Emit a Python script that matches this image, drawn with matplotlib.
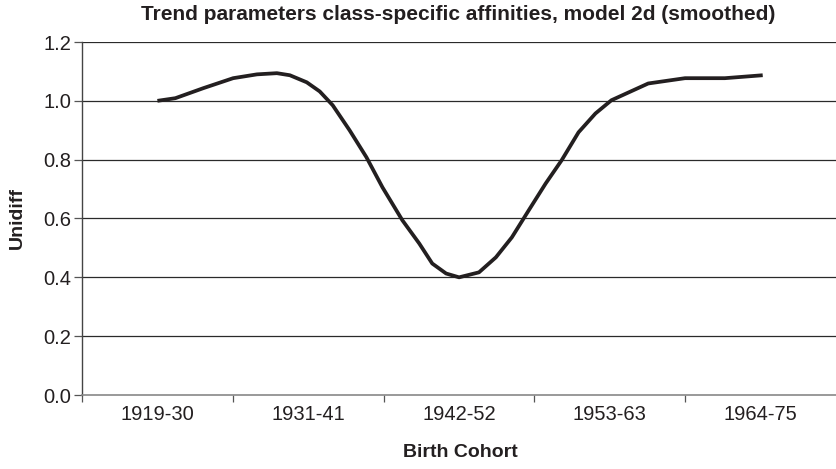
import matplotlib
matplotlib.use("Agg")
import matplotlib.pyplot as plt

categories = ["1919-30", "1931-41", "1942-52", "1953-63", "1964-75"]
# smoothed curve: cohort index (fractional) and Unidiff value
cohort_pos = [0.0, 0.119, 0.304, 0.502, 0.660, 0.792, 0.878, 0.990, 1.076, 1.162,
              1.274, 1.386, 1.492, 1.624, 1.736, 1.822, 1.914, 2.0, 2.132, 2.244,
              2.350, 2.462, 2.574, 2.680, 2.792, 2.904, 3.010, 3.254, 3.498, 3.762, 4.013]
unidiff = [1.0, 1.009, 1.043, 1.077, 1.090, 1.094, 1.087, 1.063, 1.032, 0.985,
           0.900, 0.808, 0.706, 0.594, 0.515, 0.447, 0.413, 0.400, 0.417, 0.468,
           0.536, 0.628, 0.719, 0.798, 0.893, 0.957, 1.002, 1.059, 1.077, 1.077, 1.087]
yticks = [0.0, 0.2, 0.4, 0.6, 0.8, 1.0, 1.2]

plt.rcParams['font.family'] = ['Liberation Sans', 'DejaVu Sans']

fig = plt.figure(figsize=(8.37, 4.69), dpi=100)
ax = fig.add_axes([82/837, 1 - 395/469, 1 - 82/837 - 0.001, (395 - 42)/469])

for y in yticks[1:]:
    ax.axhline(y, color='#2a2a2a', lw=0.9, zorder=1)

ax.plot(cohort_pos, unidiff, color='#231f20', lw=2.7, solid_joinstyle='round',
        solid_capstyle='butt', zorder=3)

ax.set_xlim(-0.5, len(categories) - 0.5)
ax.set_ylim(0, 1.2)
ax.set_yticks(yticks)
ax.set_yticklabels([f"{v:.1f}" for v in yticks])
ax.set_xticks(range(len(categories)))
ax.set_xticklabels(categories)
ax.set_xticks([i - 0.5 for i in range(len(categories))], minor=True)
ax.tick_params(axis='x', which='major', length=0, pad=7, labelsize=14.5, colors='#231f20')
ax.tick_params(axis='x', which='minor', length=5, width=0.9, color='#555555')
ax.tick_params(axis='y', length=6, width=0.9, color='#555555', labelsize=14.5,
               labelcolor='#231f20', pad=2)

for s in ['top', 'right']:
    ax.spines[s].set_visible(False)
ax.spines['left'].set_color('#444444')
ax.spines['left'].set_linewidth(1.0)
ax.spines['bottom'].set_color('#888888')
ax.spines['bottom'].set_linewidth(1.2)

fig.text(458/837, 1 - 14/469, "Trend parameters class-specific affinities, model 2d (smoothed)",
         ha='center', va='center', fontsize=15, fontweight='bold', color='#231f20')
fig.text(17/837, 1 - 218/469, "Unidiff", rotation=90, ha='center', va='center',
         fontsize=14, fontweight='bold', color='#231f20')
fig.text(460/837, 1 - 452/469, "Birth Cohort", ha='center', va='center',
         fontsize=14, fontweight='bold', color='#231f20')

fig.savefig("out.png", dpi=100)
